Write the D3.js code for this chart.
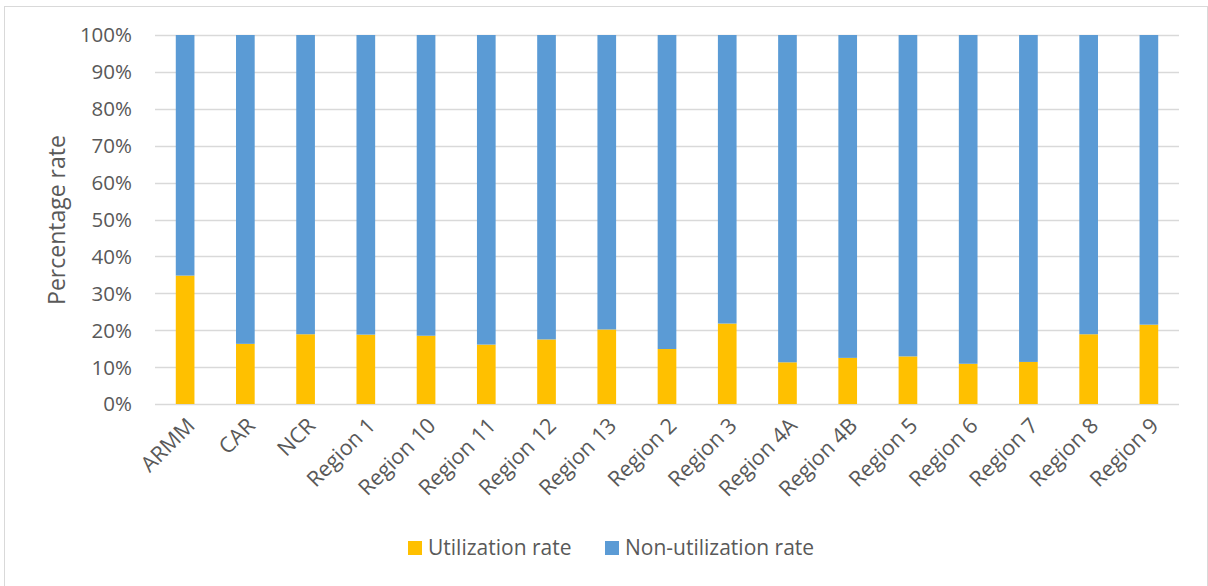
<!DOCTYPE html>
<html>
<head>
<meta charset="utf-8">
<script src="https://cdn.jsdelivr.net/npm/d3@7"></script>
<style>
  body { margin: 0; background: #fff; }
  text { font-family: "Open Sans", "Noto Sans", sans-serif; fill: #595959; }
</style>
</head>
<body>
<div id="chart"></div>
<script>
var regions = ["ARMM", "CAR", "NCR", "Region 1", "Region 10", "Region 11", "Region 12", "Region 13",
  "Region 2", "Region 3", "Region 4A", "Region 4B", "Region 5", "Region 6", "Region 7", "Region 8", "Region 9"]
var utilization = [34.8, 16.3, 18.9, 18.8, 18.5, 16.1, 17.5, 20.2, 14.9, 21.8, 11.3, 12.5, 12.9, 10.9, 11.4, 18.9, 21.5]
var nonUtilization = utilization.map(function(u) { return 100 - u })
var seriesNames = ["Utilization rate", "Non-utilization rate"]
var seriesColors = ["#FFC000", "#5B9BD5"]
var yTicks = [0, 10, 20, 30, 40, 50, 60, 70, 80, 90, 100]

var width = 1208
var height = 586

var svg = d3.select("#chart").append("svg")
  .attr("width", width)
  .attr("height", height)

// outer chart border
svg.append("rect")
  .attr("x", 4.5).attr("y", 6.5)
  .attr("width", 1203).attr("height", 620)
  .attr("fill", "none")
  .attr("stroke", "#D9D9D9")

var x = d3.scaleBand()
  .domain(regions)
  .range([155, 1179])
  .paddingInner(0.69)
  .paddingOuter(0.345)

var y = d3.scaleLinear()
  .domain([0, 100])
  .range([404, 35])

// gridlines
svg.append("g")
  .selectAll("line")
  .data(yTicks)
  .enter().append("line")
  .attr("x1", 155).attr("x2", 1179)
  .attr("y1", function(d) { return Math.round(y(d)) + 0.5 })
  .attr("y2", function(d) { return Math.round(y(d)) + 0.5 })
  .attr("stroke", "#D9D9D9")
  .attr("stroke-width", 1.3)

var rows = regions.map(function(r, i) {
  return { region: r, util: utilization[i], non: nonUtilization[i] }
})
var stacked = d3.stack().keys(["util", "non"])(rows)

svg.append("g")
  .selectAll("g")
  .data(stacked)
  .enter().append("g")
  .attr("fill", function(d, i) { return seriesColors[i] })
  .selectAll("rect")
  .data(function(d) { return d })
  .enter().append("rect")
  .attr("x", function(d) { return x(d.data.region) })
  .attr("width", x.bandwidth())
  .attr("y", function(d) { return y(d[1]) })
  .attr("height", function(d) { return y(d[0]) - y(d[1]) })

// y axis labels
var yAxis = svg.append("g")
  .attr("transform", "translate(135,0)")
  .call(d3.axisLeft(y).tickValues(yTicks).tickSize(0).tickFormat(function(d) { return d + "%" }))
yAxis.select(".domain").remove()
yAxis.selectAll("text")
  .attr("font-size", 20.5)
  .style("font-family", "'Open Sans', sans-serif")
  .attr("fill", "#595959")
  .attr("dy", "0.34em")

// x axis labels
var xAxis = svg.append("g")
  .attr("transform", "translate(0,404)")
  .call(d3.axisBottom(x).tickSize(0))
xAxis.select(".domain").remove()
xAxis.selectAll("text")
  .attr("font-size", 21.5)
  .style("font-family", "'Open Sans', sans-serif")
  .attr("fill", "#595959")
  .attr("text-anchor", "end")
  .attr("dy", 0)
  .attr("y", 0)
  .attr("transform", "translate(11,23) rotate(-45)")

svg.append("text")
  .attr("transform", "translate(65,220) rotate(-90)")
  .attr("text-anchor", "middle")
  .attr("font-size", 23)
  .text("Percentage rate")

// legend
var legendX = [408, 605]
var legend = svg.append("g")
  .selectAll("g")
  .data(seriesNames)
  .enter().append("g")
  .attr("transform", function(d, i) { return "translate(" + legendX[i] + ",541)" })
legend.append("rect")
  .attr("width", 14).attr("height", 14)
  .attr("fill", function(d, i) { return seriesColors[i] })
legend.append("text")
  .attr("x", 20).attr("y", 7)
  .attr("dy", "0.35em")
  .attr("font-size", 21)
  .text(function(d) { return d })
</script>
</body>
</html>
